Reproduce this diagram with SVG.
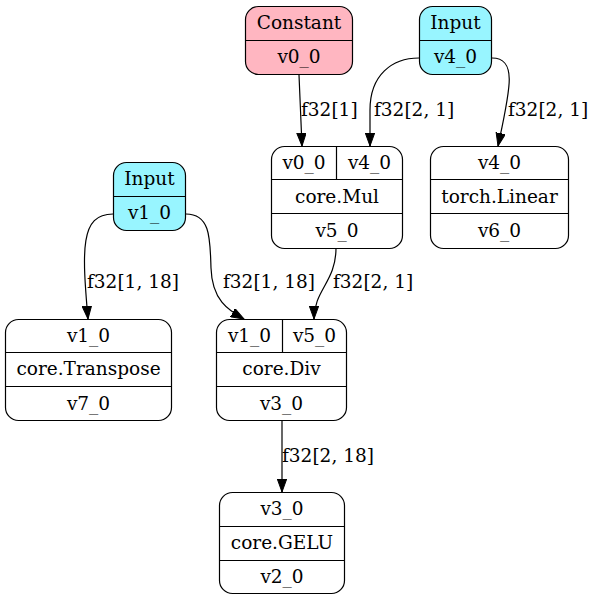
<svg xmlns="http://www.w3.org/2000/svg" width="594" height="601" viewBox="0 0 594 601">
<defs>
<style>
text{font-family:"DejaVu Serif",serif;font-size:18.5px;fill:#000;text-anchor:middle}
.lbl{text-anchor:start}
.box{fill:#fff;stroke:#000;stroke-width:1.2}
.cst{fill:#ffb6c1}
.inp{fill:#98f5ff}
.sep{stroke:#000;stroke-width:1.2;fill:none}
.edge{fill:none;stroke:#000;stroke-width:1.2;marker-end:url(#arr)}
</style>
<marker id="arr" markerUnits="userSpaceOnUse" markerWidth="14" markerHeight="10" refX="13" refY="4.7" orient="auto">
<path d="M0,0 L13,4.7 L0,9.4 z" fill="#000" stroke="#000" stroke-width="1"/>
</marker>
</defs>
<rect width="594" height="601" fill="#fff"/>
<g id="edges">
<path class="edge" d="M299,75 C300,100 301,120 302,146"/>
<path class="edge" d="M419,58 C392,58 370,75 370,110 L370,146"/>
<path class="edge" d="M492,58 C518,58 510,90 498,146"/>
<path class="edge" d="M113,214 C80,214 82,250 88,319"/>
<path class="edge" d="M186,214 C211,214 210,240 211,268 C212,300 228,310 244,319"/>
<path class="edge" d="M336,248 C336,282 314,290 314,319"/>
<path class="edge" d="M282,421 L282,492"/>
<text class="lbl" x="301" y="116">f32[1]</text>
<text class="lbl" x="374" y="116">f32[2, 1]</text>
<text class="lbl" x="508" y="116">f32[2, 1]</text>
<text class="lbl" x="87" y="288">f32[1, 18]</text>
<text class="lbl" x="223" y="288">f32[1, 18]</text>
<text class="lbl" x="333" y="288">f32[2, 1]</text>
<text class="lbl" x="282" y="462">f32[2, 18]</text>
</g>
<g id="n_const">
<rect class="box cst" x="245.5" y="6.5" width="107" height="68" rx="13"/>
<path class="sep" d="M245.5,40.5 H352.5"/>
<text x="299" y="29">Constant</text>
<text x="299" y="63">v0_0</text>
</g>
<g id="n_in4">
<rect class="box inp" x="419.5" y="6.5" width="72" height="68" rx="13"/>
<path class="sep" d="M419.5,40.5 H491.5"/>
<text x="455.5" y="29">Input</text>
<text x="455.5" y="63">v4_0</text>
</g>
<g id="n_mul">
<rect class="box" x="271.5" y="146.5" width="131" height="102" rx="13"/>
<path class="sep" d="M271.5,179.5 H402.5 M271.5,213.5 H402.5 M336.5,146.5 V179.5"/>
<text x="304" y="168.5">v0_0</text>
<text x="369.5" y="168.5">v4_0</text>
<text x="337" y="202.5">core.Mul</text>
<text x="337" y="237">v5_0</text>
</g>
<g id="n_lin">
<rect class="box" x="430.5" y="146.5" width="138" height="102" rx="13"/>
<path class="sep" d="M430.5,179.5 H568.5 M430.5,213.5 H568.5"/>
<text x="499.5" y="168.5">v4_0</text>
<text x="499.5" y="202.5">torch.Linear</text>
<text x="499.5" y="237">v6_0</text>
</g>
<g id="n_in1">
<rect class="box inp" x="113.5" y="162.5" width="72" height="68" rx="13"/>
<path class="sep" d="M113.5,196.5 H185.5"/>
<text x="149.5" y="185">Input</text>
<text x="149.5" y="219">v1_0</text>
</g>
<g id="n_tr">
<rect class="box" x="5.5" y="319.5" width="166" height="101" rx="13"/>
<path class="sep" d="M5.5,352.5 H171.5 M5.5,386.5 H171.5"/>
<text x="88.5" y="341.5">v1_0</text>
<text x="88.5" y="375">core.Transpose</text>
<text x="88.5" y="409.5">v7_0</text>
</g>
<g id="n_div">
<rect class="box" x="216.5" y="319.5" width="130" height="101" rx="13"/>
<path class="sep" d="M216.5,352.5 H346.5 M216.5,386.5 H346.5 M282.5,319.5 V352.5"/>
<text x="249.5" y="341.5">v1_0</text>
<text x="314.5" y="341.5">v5_0</text>
<text x="281.5" y="375">core.Div</text>
<text x="281.5" y="409.5">v3_0</text>
</g>
<g id="n_gelu">
<rect class="box" x="219.5" y="492.5" width="125" height="101" rx="13"/>
<path class="sep" d="M219.5,526.5 H344.5 M219.5,560.5 H344.5"/>
<text x="282" y="515">v3_0</text>
<text x="282" y="549">core.GELU</text>
<text x="282" y="583">v2_0</text>
</g>
</svg>
